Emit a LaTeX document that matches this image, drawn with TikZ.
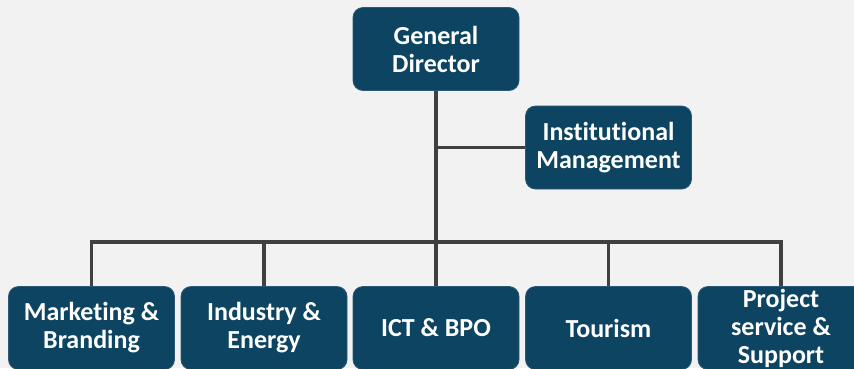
\documentclass[tikz,border=0pt]{standalone}
\usepackage{fontspec}
\setmainfont{Carlito}[RawFeature={-liga;-clig;-dlig}]
\definecolor{boxfill}{HTML}{0D4461}
\definecolor{boxedge}{HTML}{2B5A78}
\definecolor{linegray}{HTML}{404040}
\definecolor{bg}{HTML}{F2F2F2}
\tikzset{
  unit/.style={draw=boxedge, line width=0.8pt, fill=boxfill, rounded corners=10pt,
    minimum width=166pt, minimum height=83pt, inner sep=0pt, align=center,
    text=white, font=\fontsize{26}{28}\selectfont\bfseries},
  conn/.style={draw=linegray, line width=3.5pt}
}
\begin{document}
\begin{tikzpicture}[x=1pt, y=-1pt]
  % page background
  \fill[bg] (0,0) rectangle (854,368);
  \useasboundingbox (0,0) rectangle (854,368);

  % units
  \node[unit] (gd)   at (436,49)    {General\\Director};
  \node[unit] (im)   at (608.5,147.5) {Institutional\\Management};
  \node[unit] (mkt)  at (91.5,328)  {Marketing \&\\Branding};
  \node[unit] (ind)  at (264,328)   {Industry \&\\Energy};
  \node[unit] (ict)  at (436,328)   {ICT \& BPO};
  \node[unit] (tour) at (608.5,328) {Tourism};
  \node[unit] (proj) at (781,328)   {Project\\service \&\\Support};

  % junction of the department bus
  \coordinate (bus) at (436,242);

  % connectors
  \draw[conn] (gd.south) -- (bus);
  \draw[conn] (gd.south |- im.west) -- (im.west);
  \draw[conn] (mkt.north) |- (bus) -| (proj.north);
  \draw[conn] (ind.north) -- (ind.north |- bus);
  \draw[conn] (bus) -- (ict.north);
  \draw[conn] (tour.north) -- (tour.north |- bus);
\end{tikzpicture}
\end{document}
